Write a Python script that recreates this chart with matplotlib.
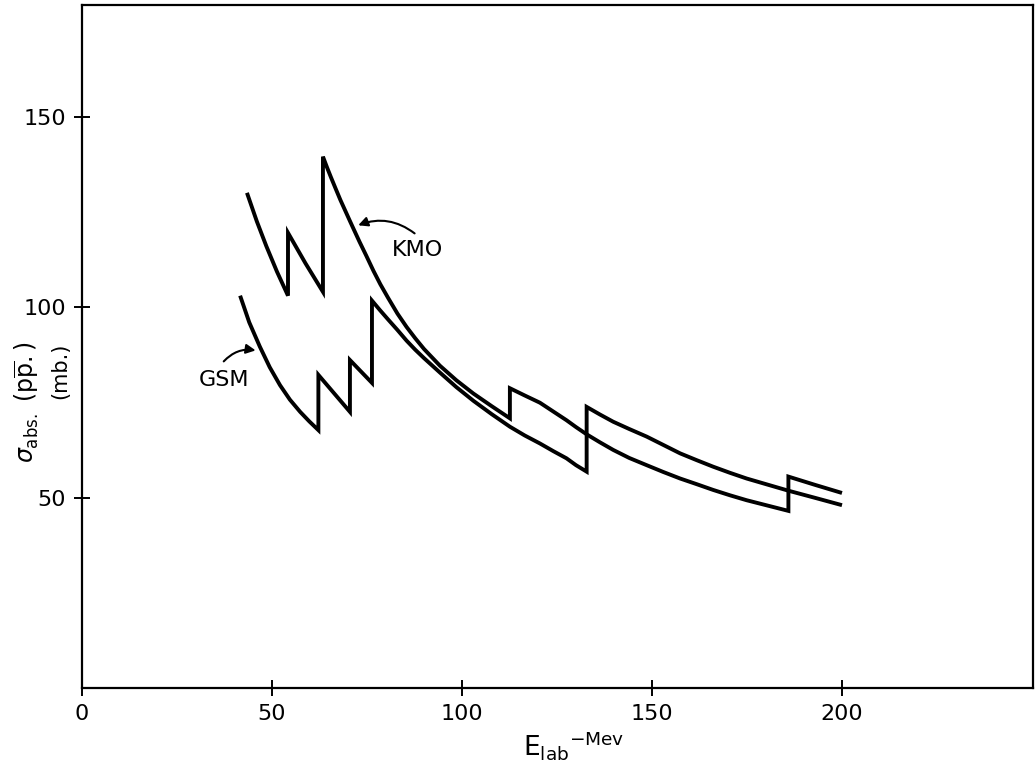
import numpy as np
import matplotlib
matplotlib.use("Agg")
import matplotlib.pyplot as plt

plt.rcParams['font.family'] = ['DejaVu Sans']
plt.rcParams['mathtext.fontset'] = 'dejavusans'

# KMO curve (energy in MeV, cross section in mb), vertical jumps as repeated x
kmo_e = [43.4, 46.0, 48.5, 51.3, 54.2, 54.2, 58.8, 63.4, 63.4, 64.5, 65.5, 66.7,
         68.0, 70.5, 71.7, 73.0, 74.8, 76.7, 78.5, 80.5, 83.0, 85.4, 87.7, 90.0,
         94.2, 98.5, 103.0, 107.8, 112.6, 112.6, 116.5, 120.5, 124.0, 127.5, 130.0,
         132.8, 136.3, 139.8, 144.0, 148.6, 153.0, 157.4, 161.8, 166.1, 170.5,
         174.9, 180.4, 185.9, 185.9, 193.0, 200.0]
kmo_s = [130.0, 122.5, 116.0, 109.3, 103.0, 119.5, 111.5, 104.0, 139.5, 136.6, 134.1, 131.2,
         128.1, 122.6, 120.0, 117.2, 113.5, 109.5, 106.0, 102.5, 98.3, 94.8, 91.8, 89.0,
         84.6, 80.8, 77.3, 74.0, 70.8, 78.7, 76.8, 74.9, 72.6, 70.3, 68.5,
         66.6, 64.5, 62.5, 60.4, 58.5, 56.7, 55.0, 53.5, 52.0, 50.6,
         49.3, 47.9, 46.5, 55.5, 53.3, 51.2]

# GSM curve
gsm_e = [41.6, 44.0, 46.8, 49.4, 52.1, 54.7, 57.4, 59.8, 62.2, 62.2, 70.5, 70.5,
         76.3, 76.3, 78.4, 80.5, 83.0, 85.4, 87.7, 90.0, 94.2, 98.5, 103.0, 107.8,
         112.6, 116.5, 120.5, 124.0, 127.5, 130.0, 132.8, 132.8, 136.3, 139.8, 144.0,
         148.6, 153.0, 157.4, 161.8, 166.1, 170.5, 174.9, 180.4, 185.9, 193.0, 200.0]
gsm_s = [103.0, 96.0, 89.6, 84.2, 79.5, 75.7, 72.5, 70.0, 67.7, 82.2, 72.5, 86.1,
         80.1, 101.7, 99.2, 96.8, 94.0, 91.2, 88.8, 86.6, 82.8, 79.0, 75.4, 71.9,
         68.6, 66.3, 64.2, 62.2, 60.3, 58.5, 56.8, 73.8, 71.8, 69.9, 68.0,
         66.0, 63.8, 61.6, 59.8, 58.1, 56.5, 55.0, 53.4, 51.8, 49.9, 48.0]

x_ticks = [0, 50, 100, 150, 200]
y_ticks = [50, 100, 150]

fig = plt.figure(figsize=(10.36, 7.74), dpi=100)
ax = fig.add_axes([0.0792, 0.1111, 0.918, 0.8824])

ax.plot(kmo_e, kmo_s, color='black', lw=2.8, solid_joinstyle='miter', solid_capstyle='butt')
ax.plot(gsm_e, gsm_s, color='black', lw=2.8, solid_joinstyle='miter', solid_capstyle='butt')

ax.set_xlim(0, 250.3)
ax.set_ylim(0, 179.3)
ax.set_xticks(x_ticks)
ax.set_yticks(y_ticks)
ax.tick_params(direction='inout', length=11, width=1.4, labelsize=16, pad=6)
for s in ax.spines.values():
    s.set_linewidth(1.6)

# curve labels with arrows
ax.text(88.4, 115, 'KMO', fontsize=16, ha='center', va='center')
ax.annotate('', xy=(72.0, 121.2), xytext=(88.1, 118.9),
            arrowprops=dict(arrowstyle='-|>', connectionstyle='arc3,rad=0.3',
                            lw=1.5, color='black', mutation_scale=14))
ax.text(37.4, 80.8, 'GSM', fontsize=16, ha='center', va='center')
ax.annotate('', xy=(46.4, 88.5), xytext=(36.8, 85.2),
            arrowprops=dict(arrowstyle='-|>', connectionstyle='arc3,rad=-0.3',
                            lw=1.5, color='black', mutation_scale=14))

# axis titles
fig.text(574 / 1036, 1 - 745 / 774, r'$\mathrm{E}_{\mathrm{lab}}{}^{\mathrm{-Mev}}$',
         fontsize=19, ha='center', va='center')
fig.text(27 / 1036, 1 - 402 / 774, r'$\sigma_{\mathrm{abs.}}\ (\mathrm{p}\overline{\mathrm{p}}.)$',
         fontsize=17, rotation=90, ha='center', va='center')
fig.text(60 / 1036, 1 - 371 / 774, '(mb.)', fontsize=15, rotation=90,
         ha='center', va='center')

fig.savefig('out.png', dpi=100)
